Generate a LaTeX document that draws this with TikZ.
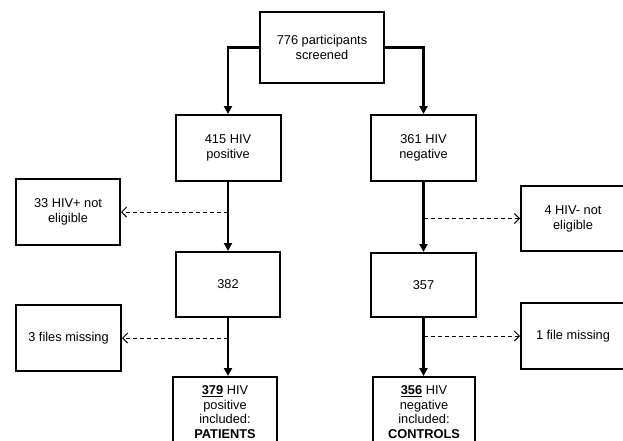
\documentclass[tikz,border=0pt]{standalone}
\usepackage{fontspec}
\setmainfont{Liberation Sans}
\usetikzlibrary{arrows.meta}
\begin{document}
\begin{tikzpicture}[x=1pt,y=-1pt,
  box/.style={draw, line width=2pt, align=center, inner sep=0pt,
    minimum width=104pt, minimum height=66pt,
    font=\fontsize{12.8}{15}\selectfont},
  endbox/.style={box, anchor=north, inner ysep=5pt, minimum height=70pt,
    font=\fontsize{12.8}{14.4}\selectfont},
  solidarrow/.style={line width=2.2pt, -{Triangle[length=8pt,width=8pt]}},
  dasharrow/.style={line width=1pt, dash pattern=on 4pt off 3pt,
    -{Straight Barb[length=5pt,width=10pt,line width=1pt]}}]
\useasboundingbox (0,0) rectangle (623,440);
\node[box, minimum width=124pt, minimum height=71pt] (top) at (322,47.5) {776 participants\\screened};
\node[box, minimum width=105pt] (pos) at (228,148) {415 HIV\\positive};
\node[box, minimum width=105pt] (neg) at (423.5,148) {361 HIV\\negative};
\node[box] (ne33) at (68,212) {33 HIV+ not\\eligible};
\node[box, minimum height=65pt] (ne4) at (573,218.5) {4 HIV- not\\eligible};
\node[box, minimum height=65pt] (b382) at (228,284.5) {382};
\node[box, minimum width=105pt, minimum height=64pt] (b357) at (423.5,285) {357};
\node[box, minimum width=105pt] (fm3) at (68.5,338) {3 files missing};
\node[box] (fm1) at (573,336) {1 file missing};
\node[endbox] (pat) at (225,376)
  {\underline{\textbf{379}} HIV\\positive\\included:\\\textbf{PATIENTS}};
\node[endbox, minimum width=102pt] (con) at (424,376)
  {\underline{\textbf{356}} HIV\\negative\\included:\\\textbf{CONTROLS}};
\coordinate (d1) at (228,212);
\coordinate (d2) at (423.5,218.5);
\coordinate (d3) at (228,338);
\coordinate (d4) at (423.5,336);
\draw[solidarrow] (top.west) -| (pos.north);
\draw[solidarrow] (top.east) -| (neg.north);
\draw[solidarrow] (pos.south) -- (b382.north);
\draw[solidarrow] (neg.south) -- (b357.north);
\draw[solidarrow] (b382.south) -- (b382.south |- pat.north);
\draw[solidarrow] (b357.south) -- (b357.south |- con.north);
\draw[dasharrow] (d1) -- (ne33.east);
\draw[dasharrow] (d2) -- (ne4.west);
\draw[dasharrow] (d3) -- (fm3.east);
\draw[dasharrow] (d4) -- (fm1.west);
\end{tikzpicture}
\end{document}
